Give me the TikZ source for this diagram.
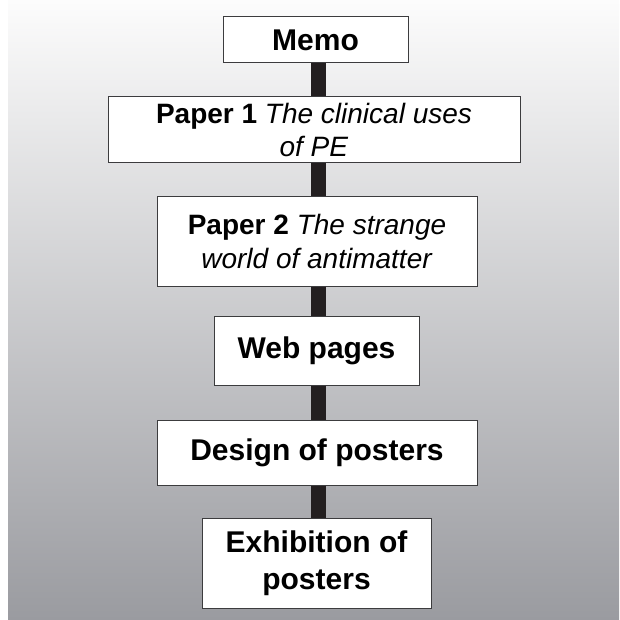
\documentclass[tikz,border=0pt]{standalone}
\usepackage{fontspec}
\setmainfont{Liberation Sans}
\definecolor{LinkDark}{RGB}{35,31,32}
\definecolor{EdgeGray}{RGB}{60,60,62}
\definecolor{BackTop}{RGB}{252,252,252}
\definecolor{BackBottom}{RGB}{154,155,160}
\usetikzlibrary{positioning,calc}

\begin{document}
\begin{tikzpicture}[x=1pt,y=-1pt,
  stagebox/.style={draw=EdgeGray,line width=1pt,fill=white,inner sep=0pt,align=center,font=\fontsize{30}{37}\selectfont\bfseries},
  paperbox/.style={stagebox,font=\fontsize{28}{33.5}\selectfont},
  link/.style={LinkDark,line width=15pt}]
\useasboundingbox (0,0) rectangle (619,620);
% background
\shade[top color=BackTop,bottom color=BackBottom] (8,0) rectangle (619,620);
% Memo
\node[stagebox,minimum width=185pt,minimum height=46pt] (memo) at (315.5,40) {Memo};
% Paper 1
\node[paperbox,minimum width=412pt,minimum height=66pt] (paper1) at (314,130)
  {\textbf{Paper 1} \textit{The clinical uses}\\\textit{of PE}};
% Paper 2
\node[paperbox,minimum width=320pt,minimum height=89pt] (paper2) at (317,241.5)
  {\textbf{Paper 2} \textit{The strange}\\\textit{world of antimatter}};
% Web pages
\node[stagebox,minimum width=205pt,minimum height=69pt] (web) at (316.5,350.5) {Web pages};
% Design of posters
\node[stagebox,minimum width=320pt,minimum height=65pt] (design) at (317,452.5) {Design of posters};
% Exhibition of posters
\node[stagebox,minimum width=229pt,minimum height=90pt] (exhib) at (316.5,563) {Exhibition of\\posters};
% links
\coordinate (spine) at (318.5,0);
\draw[link] (spine |- memo.south) -- (spine |- paper1.north);
\draw[link] (spine |- paper1.south) -- (spine |- paper2.north);
\draw[link] (spine |- paper2.south) -- (spine |- web.north);
\draw[link] (spine |- web.south) -- (spine |- design.north);
\draw[link] (spine |- design.south) -- (spine |- exhib.north);
\end{tikzpicture}
\end{document}
